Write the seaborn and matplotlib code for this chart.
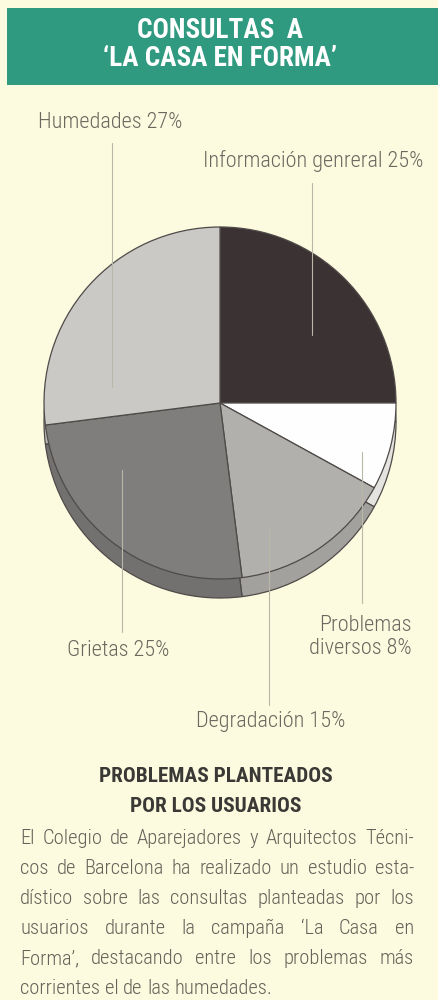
import matplotlib
matplotlib.use("Agg")
import matplotlib.pyplot as plt
import seaborn as sns
from matplotlib import font_manager as fm
from matplotlib.patches import Rectangle

# ---------------- data ----------------
categories = ["Información genreral", "Problemas diversos", "Degradación", "Grietas", "Humedades"]
values = [25, 8, 15, 25, 27]
label_texts = ["Información genreral 25%", "Problemas\ndiversos 8%", "Degradación 15%",
               "Grietas 25%", "Humedades 27%"]
title_lines = ["CONSULTAS  A", "‘LA CASA EN FORMA’"]
subtitle_lines = ["PROBLEMAS PLANTEADOS", "POR LOS USUARIOS"]
body_lines = [
    "El Colegio de Aparejadores y Arquitectos Técni-",
    "cos de Barcelona ha realizado un estudio esta-",
    "dístico sobre las consultas planteadas por los",
    "usuarios durante la campaña ‘La Casa en",
    "Forma’, destacando entre los problemas más",
    "corrientes el de las humedades.",
]

slice_colors = ["#3b3233", "#fefefe", "#b2b0ac", "#807e7c", "#cac9c5"]
side_colors = ["#2e2829", "#e4e3df", "#a3a19d", "#737170", "#bdbcb8"]

sns.set_theme(style="white")
FAM = ["Roboto Condensed", "Barlow Condensed", "DejaVu Sans"]
plt.rcParams['font.family'] = FAM

W, H = 438, 1000
fig = plt.figure(figsize=(W / 100, H / 100), dpi=100)
BG = "#fcfadf"
fig.patch.set_facecolor(BG)

# ---------------- pie ----------------
cx, cy, R = 220, 403, 176
half = 200
pax = fig.add_axes([(cx - half) / W, 1 - (cy + half) / H, 2 * half / W, 2 * half / H])
pax.set_facecolor("none")
off = 19 / R
pax.pie(values, colors=side_colors, startangle=90, counterclock=False, radius=1,
        center=(0, -off), wedgeprops=dict(edgecolor="#4e4a48", linewidth=0.9))
pax.pie(values, colors=slice_colors, startangle=90, counterclock=False, radius=1,
        center=(0, 0), wedgeprops=dict(edgecolor="#4e4a48", linewidth=0.9))
pax.set_xlim(-half / R, half / R)
pax.set_ylim(-half / R, half / R)
pax.set_aspect("auto")
pax.axis("off")

# ---------------- overlay (pixel coordinates) ----------------
ov = fig.add_axes([0, 0, 1, 1])
ov.set_xlim(0, W)
ov.set_ylim(H, 0)
ov.axis("off")

ov.add_patch(Rectangle((7, 8), W - 7, 77, facecolor="#2f9a7f", edgecolor="none"))
ov.text(220, 31, title_lines[0], ha="center", va="center", color="white",
        fontsize=19.5, fontweight="bold")
ov.text(220, 59, title_lines[1], ha="center", va="center", color="white",
        fontsize=19.5, fontweight="bold")

LC = "#6a695f"
LINE_C = "#b9b7a8"
LFS = 16
LW_ = "light"
# labels (Info, Problemas, Degradación, Grietas, Humedades)
ov.text(423, 161, label_texts[0], ha="right", va="center", color=LC, fontsize=LFS, fontweight=LW_)
ov.text(412, 637, label_texts[1], ha="right", va="center", color=LC, fontsize=LFS,
        multialignment="right", linespacing=1.1, fontweight=LW_)
ov.text(345, 721, label_texts[2], ha="right", va="center", color=LC, fontsize=LFS, fontweight=LW_)
ov.text(67, 650, label_texts[3], ha="left", va="center", color=LC, fontsize=LFS, fontweight=LW_)
ov.text(38, 123, label_texts[4], ha="left", va="center", color=LC, fontsize=LFS, fontweight=LW_)

for x, y0, y1 in [(312, 183, 335), (362, 452, 603), (269, 528, 705),
                  (122, 470, 632), (112, 143, 387)]:
    ov.plot([x, x], [y0, y1], color=LINE_C, lw=0.8)

ov.text(216, 777, subtitle_lines[0], ha="center", va="center", color="#3a3935",
        fontsize=15.3, fontweight="bold")
ov.text(216, 806, subtitle_lines[1], ha="center", va="center", color="#3a3935",
        fontsize=15.3, fontweight="bold")

# justified body text
renderer = fig.canvas.get_renderer()
fp = fm.FontProperties(family=FAM, size=14.8, weight="light")
x0, x1 = 20, 414
for i, line in enumerate(body_lines):
    y = 844 + i * 30
    words = line.split(" ")
    last = i == len(body_lines) - 1
    widths = [renderer.get_text_width_height_descent(w, fp, ismath=False)[0] for w in words]
    if last or len(words) == 1:
        gap = renderer.get_text_width_height_descent("a b", fp, ismath=False)[0] - \
            renderer.get_text_width_height_descent("ab", fp, ismath=False)[0]
    else:
        gap = (x1 - x0 - sum(widths)) / (len(words) - 1)
    x = x0
    for w, wd in zip(words, widths):
        ov.text(x, y, w, ha="left", va="baseline", color="#646359", fontproperties=fp)
        x += wd + gap

fig.savefig("out.png", dpi=100, facecolor=BG)
